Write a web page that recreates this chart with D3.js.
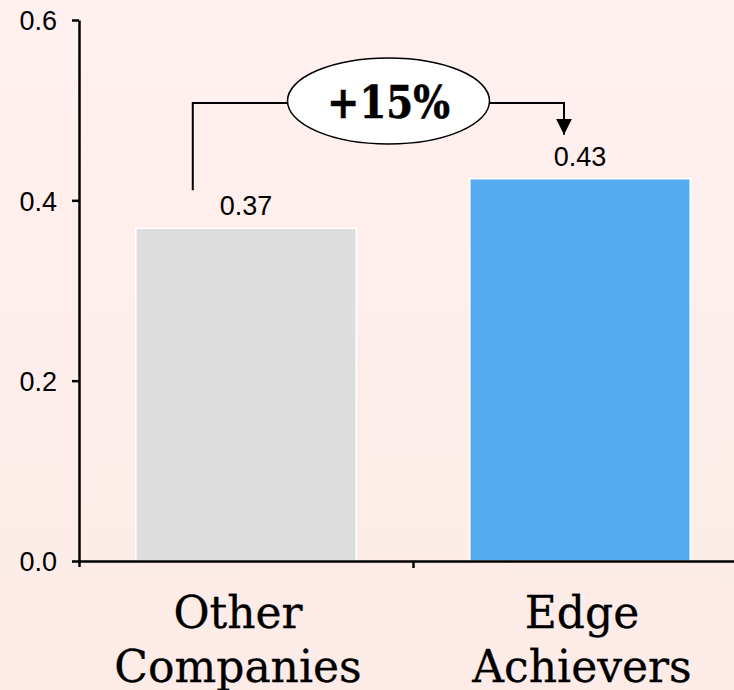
<!DOCTYPE html>
<html>
<head>
<meta charset="utf-8">
<script src="https://cdn.jsdelivr.net/npm/d3@7"></script>
<style>
  body { margin: 0; background: #fff0ef; }
  svg { display: block; }
</style>
</head>
<body>
<div id="container"></div>
<script>
var width = 734, height = 690;

// data
var categories = ["Other Companies", "Edge Achievers"];
var labelLines = [["Other", "Companies"], ["Edge", "Achievers"]];
var values = [0.369, 0.424];
var valueLabels = ["0.37", "0.43"];
var colors = ["#dddddd", "#55abed"];
var yTicks = [0, 0.2, 0.4, 0.6];
var changeLabel = "+15%";

var svg = d3.select("#container")
    .append("svg")
    .attr("width", width)
    .attr("height", height);

// fond dégradé rose pâle
var defs = svg.append("defs");
var grad = defs.append("linearGradient")
    .attr("id", "bg").attr("x1", 0).attr("y1", 0).attr("x2", 0).attr("y2", 1);
grad.append("stop").attr("offset", "0%").attr("stop-color", "#fff1f0");
grad.append("stop").attr("offset", "100%").attr("stop-color", "#fcebe6");
svg.append("rect").attr("width", width).attr("height", height).attr("fill", "url(#bg)");

var y = d3.scaleLinear().domain([0, 0.6]).range([561, 20]);
var x = d3.scaleBand().domain(categories).range([79, 747])
    .paddingInner(0.34).paddingOuter(0.17);
// echelle pour les graduations entre les barres
var xLin = d3.scaleLinear().domain([0, 2]).range([79, 747]);

// barres
svg.selectAll(".bar")
    .data(categories)
    .enter()
    .append("rect")
    .attr("class", "bar")
    .attr("x", d => x(d))
    .attr("width", x.bandwidth())
    .attr("y", (d, i) => y(values[i]))
    .attr("height", (d, i) => y(0) - y(values[i]))
    .attr("fill", (d, i) => colors[i])
    .attr("stroke", "#ffffff")
    .attr("stroke-width", 1.5);

// axe Y
var yAxis = svg.append("g")
    .attr("transform", "translate(79,0)")
    .call(d3.axisLeft(y).tickValues(yTicks).tickFormat(d3.format(".1f")).tickSize(7).tickSizeOuter(0));
yAxis.select(".domain").attr("stroke", "#000").attr("stroke-width", 2.5);
yAxis.selectAll(".tick line").attr("stroke", "#000").attr("stroke-width", 2.5);
yAxis.selectAll(".tick text")
    .attr("x", -22)
    .attr("dy", "0.36em")
    .attr("fill", "#000")
    .style("font-family", "'Liberation Sans', Arial, sans-serif")
    .style("font-size", "27px");

// axe X
var xAxis = svg.append("g")
    .attr("transform", "translate(0,561)")
    .call(d3.axisBottom(xLin).tickValues([1]).tickFormat("").tickSize(7).tickSizeOuter(6));
xAxis.select(".domain").attr("stroke", "#000").attr("stroke-width", 2.5);
xAxis.selectAll(".tick line").attr("stroke", "#000").attr("stroke-width", 2.5);

// etiquettes des categories (la premiere est un peu decalee a gauche)
var labelShift = [-8, 2];
svg.selectAll(".cat")
    .data(categories)
    .enter()
    .append("g")
    .attr("class", "cat")
    .each(function(d, i) {
        var g = d3.select(this);
        var cx = x(d) + x.bandwidth() / 2 + labelShift[i];
        labelLines[i].forEach(function(line, j) {
            g.append("text")
                .attr("x", cx)
                .attr("y", 628 + j * 54)
                .attr("text-anchor", "middle")
                .style("font-family", "'DejaVu Serif', serif")
                .style("font-size", "44px")
                .attr("fill", "#000")
                .attr("stroke", "#000")
                .attr("stroke-width", 0.3)
                .text(line);
        });
    });

// valeurs au dessus des barres
svg.selectAll(".val")
    .data(categories)
    .enter()
    .append("text")
    .attr("class", "val")
    .attr("x", d => x(d) + x.bandwidth() / 2)
    .attr("y", (d, i) => y(values[i]) - 13)
    .attr("text-anchor", "middle")
    .style("font-family", "'Liberation Sans', Arial, sans-serif")
    .style("font-size", "27px")
    .attr("fill", "#000")
    .text((d, i) => valueLabels[i]);

// annotation +15%
var x0 = x(categories[0]) + 57;
var x1 = x(categories[1]) + x.bandwidth() / 2 - 16;
var yTop = y(0.508);
var yStart = y(values[0]) - 38;
var yEnd = y(values[1]) - 44;
var ex = 388.5, rx = 101, ry = 43;

defs.append("marker")
    .attr("id", "arrow")
    .attr("viewBox", "0 0 10 10")
    .attr("refX", 10).attr("refY", 5)
    .attr("markerWidth", 16).attr("markerHeight", 16)
    .attr("markerUnits", "userSpaceOnUse")
    .attr("orient", "auto")
    .append("path")
    .attr("d", "M0,0 L10,5 L0,10 Z")
    .attr("fill", "#000");

svg.append("path")
    .attr("d", "M" + x0 + "," + yStart + " V" + yTop + " H" + (ex - rx))
    .attr("fill", "none").attr("stroke", "#000").attr("stroke-width", 2);

svg.append("path")
    .attr("d", "M" + (ex + rx) + "," + yTop + " H" + x1 + " V" + yEnd)
    .attr("fill", "none").attr("stroke", "#000").attr("stroke-width", 2)
    .attr("marker-end", "url(#arrow)");

svg.append("ellipse")
    .attr("cx", ex).attr("cy", yTop - 2)
    .attr("rx", rx).attr("ry", ry)
    .attr("fill", "#ffffff")
    .attr("stroke", "#000").attr("stroke-width", 1.5);

svg.append("text")
    .attr("x", ex)
    .attr("y", yTop + 15)
    .attr("text-anchor", "middle")
    .style("font-family", "'DejaVu Serif', serif")
    .style("font-weight", "bold")
    .style("font-size", "44px")
    .attr("textLength", 123)
    .attr("lengthAdjust", "spacingAndGlyphs")
    .attr("fill", "#000")
    .attr("stroke", "#000")
    .attr("stroke-width", 0.6)
    .text(changeLabel);
</script>
</body>
</html>
